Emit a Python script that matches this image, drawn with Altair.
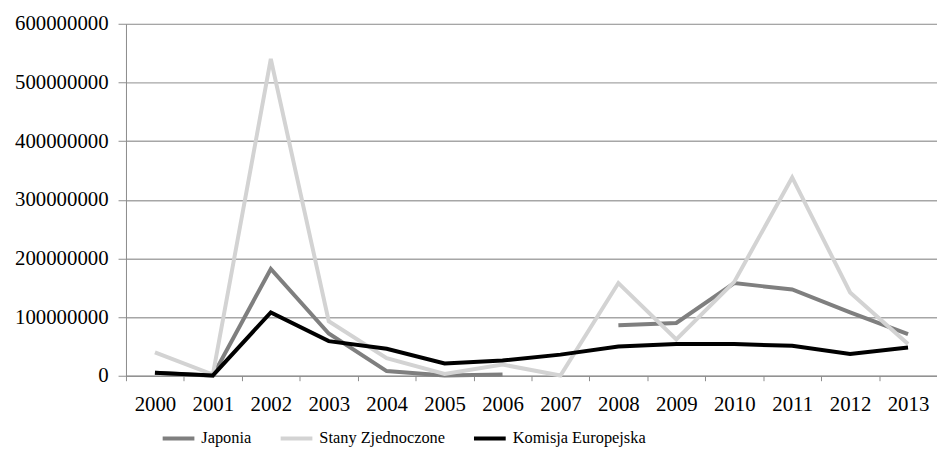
import altair as alt
import pandas as pd

years = [str(y) for y in range(2000, 2014)]
series = ["Japonia", "Stany Zjednoczone", "Komisja Europejska"]
colors = ["#7f7f7f", "#d3d3d3", "#000000"]

japonia = [5e6, 0, 182e6, 72e6, 8e6, 0.5e6, 2e6, None, 86e6, 90e6, 158e6, 147e6, 108e6, 71e6]
stany = [40e6, 2e6, 540e6, 93e6, 30e6, 3e6, 19e6, 0.5e6, 158e6, 62e6, 160e6, 338e6, 142e6, 54e6]
komisja = [5e6, 0.5e6, 108e6, 59e6, 46e6, 21e6, 26e6, 36e6, 50e6, 54e6, 54e6, 51e6, 37e6, 48e6]

rows = []
for name, vals in zip(series, [japonia, stany, komisja]):
    seg = 0
    for yr, v in zip(years, vals):
        if v is None:
            seg += 1
            continue
        rows.append({"rok": yr, "wartosc": v, "kraj": name, "seg": f"{name}-{seg}"})
df = pd.DataFrame(rows)

FONT = "Liberation Serif"

x = alt.X(
    "rok:N",
    sort=years,
    bandPosition=0.5,
    scale=alt.Scale(type="band", domain=years, paddingInner=0, paddingOuter=0),
    axis=alt.Axis(
        title=None, labelAngle=0, tickBand="extent", grid=False,
        domainColor="#8c8c8c", tickColor="#8c8c8c", tickSize=5,
        labelFont=FONT, labelFontSize=21, labelColor="#000000", labelPadding=13,
    ),
)
y = alt.Y(
    "wartosc:Q",
    scale=alt.Scale(domain=[0, 600e6], nice=False),
    axis=alt.Axis(
        title=None, values=[0, 1e8, 2e8, 3e8, 4e8, 5e8, 6e8], format="d",
        grid=True, gridColor="#a6a6a6", gridWidth=1.3,
        domainColor="#8c8c8c", tickColor="#8c8c8c", tickSize=8,
        labelFont=FONT, labelFontSize=21, labelColor="#000000", labelPadding=10,
    ),
)
color = alt.Color(
    "kraj:N",
    scale=alt.Scale(domain=series, range=colors),
    legend=alt.Legend(
        title=None, orient="none", direction="horizontal", legendX=35, legendY=400,
        symbolType="stroke", symbolSize=1024, symbolStrokeWidth=4,
        labelFont=FONT, labelFontSize=16.5, labelColor="#000000",
        labelOffset=5, columnPadding=21,
    ),
)

layers = []
for name in series:
    layers.append(
        alt.Chart(df)
        .transform_filter(alt.datum.kraj == name)
        .mark_line(strokeWidth=4)
        .encode(x=x, y=y, color=color, detail="seg:N")
    )

chart = (
    alt.layer(*layers)
    .properties(
        width=818, height=355,
        autosize=alt.AutoSizeParams(type="none"),
        padding={"left": 119, "top": 14, "right": 0, "bottom": 76},
        background="white",
    )
    .configure_view(stroke=None)
    .configure_legend(labelFont=FONT, labelFontSize=16.5, labelColor="#000000")
    .configure(font=FONT)
)

chart.save("out.html", embed_options={"renderer": "svg", "actions": False})
